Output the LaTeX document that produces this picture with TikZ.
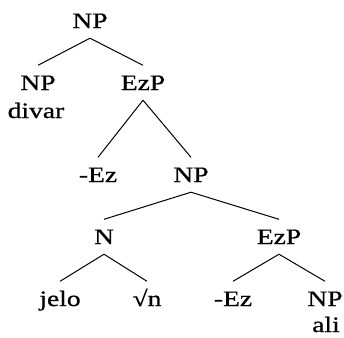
\documentclass[tikz,border=0pt]{standalone}
\usepackage{fontspec}
\setmainfont{Liberation Serif}[FakeStretch=1.25,FakeBold=0.8]
\usepackage{tikz}

\begin{document}
\begin{tikzpicture}[x=1pt,y=-1pt,
	lab/.style={font=\fontsize{22}{24}\selectfont, anchor=base, inner xsep=0pt, inner ysep=10pt, text height=14.5pt, text depth=0pt},
	word/.style={lab, inner ysep=0pt},
	branch/.style={line width=1pt}]
	\useasboundingbox (0,0) rectangle (344,337);
	\node[lab] (np-top) at (90,28) {NP};
	\node[lab] (np-l) at (38,90) {NP};
	\node[word] (divar) at (36,118) {divar};
	\node[lab] (ezp-a) at (143,90) {EzP};
	\node[lab] (ez-a) at (98,182) {-Ez};
	\node[lab] (np-m) at (191,182) {NP};
	\node[lab] (n) at (104,244) {N};
	\node[lab] (ezp-b) at (279,244) {EzP};
	\node[lab] (jelo) at (60,306) {jelo};
	\node[lab] (root) at (147,306) {√n};
	\node[lab] (ez-b) at (233,306) {-Ez};
	\node[lab] (np-r) at (325,306) {NP};
	\node[word] (ali) at (326,332) {ali};
	\path[branch]
	(np-top.south) edge (np-l.north)
	edge (ezp-a.north)
	(ezp-a.south) edge (ez-a.north)
	edge (np-m.north)
	(np-m.south) edge (n.north)
	edge (ezp-b.north)
	(n.south) edge (jelo.north)
	edge (root.north)
	(ezp-b.south) edge (ez-b.north)
	edge (np-r.north)
	;
\end{tikzpicture}
\end{document}
